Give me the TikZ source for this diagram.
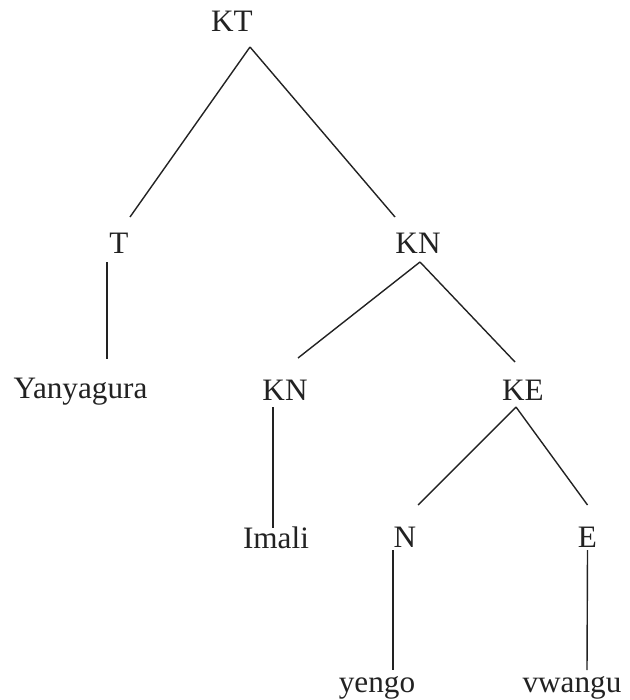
\documentclass[tikz,border=0pt]{standalone}
\usepackage{fontspec}
\setmainfont{Liberation Serif}
\usetikzlibrary{calc}
\definecolor{Ink}{HTML}{222222}

\begin{document}
\begin{tikzpicture}[x=0.5pt,y=-0.5pt,
    every node/.style={font=\fontsize{15.6}{18}\selectfont,text=Ink,inner sep=0pt,anchor=base},
    branch/.style={Ink,line width=0.7pt}]
    \useasboundingbox (0,0) rectangle (630,700);

    % labels, placed on their baselines
    \node (kt) at (232,32) {KT};
    \node (t) at (119,253) {T};
    \node (kn) at (418,253) {KN};
    \node (yan) at (80.5,398) {Yanyagura};
    \node (kntwo) at (285,400) {KN};
    \node (ke) at (523,400) {KE};
    \node (imali) at (276,548) {Imali};
    \node (n) at (405,547) {N};
    \node (e) at (587.5,547) {E};
    \node (yengo) at (377,692) {yengo};
    \node (vwangu) at (572,692) {vwangu};

    % branches
    \draw[branch] ($(kt.base)+(18,15)$) -- ($(t.base)+(11,-36)$);
    \draw[branch] ($(kt.base)+(18,15)$) -- ($(kn.base)+(-23,-36)$);
    \draw[branch] ($(t.base)+(-12,9)$) -- ($(yan.base)+(26.5,-39)$);
    \draw[branch] ($(kn.base)+(2,9)$) -- ($(kntwo.base)+(13,-42)$);
    \draw[branch] ($(kn.base)+(2,9)$) -- ($(ke.base)+(-8,-38)$);
    \draw[branch] ($(kntwo.base)+(-12,7)$) -- ($(imali.base)+(-3,-20)$);
    \draw[branch] ($(ke.base)+(-7,7)$) -- ($(n.base)+(13,-42)$);
    \draw[branch] ($(ke.base)+(-7,7)$) -- ($(e.base)+(0,-42)$);
    \draw[branch] ($(n.base)+(-12,3)$) -- ($(yengo.base)+(16,-22)$);
    \draw[branch] ($(e.base)+(0,3)$) -- ($(vwangu.base)+(15,-22)$);
  \end{tikzpicture}
\end{document}
